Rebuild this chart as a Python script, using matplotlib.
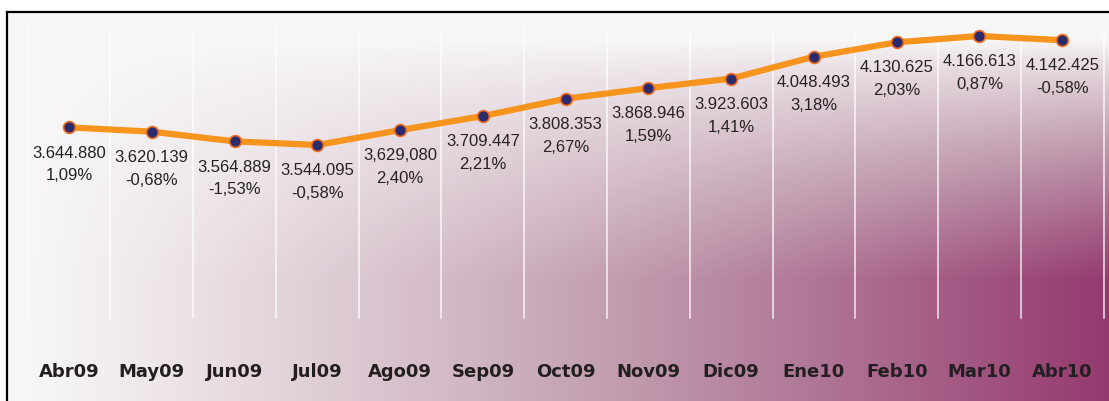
import numpy as np
import matplotlib.pyplot as plt

# Data
months = ['Abr09', 'May09', 'Jun09', 'Jul09', 'Ago09', 'Sep09', 'Oct09',
          'Nov09', 'Dic09', 'Ene10', 'Feb10', 'Mar10', 'Abr10']
values = [3644880, 3620139, 3564889, 3544095, 3629080, 3709447, 3808353,
          3868946, 3923603, 4048493, 4130625, 4166613, 4142425]
value_labels = ['3.644.880', '3.620.139', '3.564.889', '3.544.095', '3,629,080',
                '3.709.447', '3.808.353', '3.868.946', '3.923.603', '4.048.493',
                '4.130.625', '4.166.613', '4.142.425']
pct_labels = ['1,09%', '-0,68%', '-1,53%', '-0,58%', '2,40%', '2,21%', '2,67%',
              '1,59%', '1,41%', '3,18%', '2,03%', '0,87%', '-0,58%']

W, H = 1109, 401
fig = plt.figure(figsize=(W / 100, H / 100), dpi=100)
ax = fig.add_axes([7 / W, 0, (W - 7) / W, (H - 12) / H])

# x scale: category spacing ~82.8px, first point at px 69
step = 82.77
x0 = (7 - 69) / step
x1 = (W - 69) / step
ax.set_xlim(x0, x1)

# y scale from point positions
k = 1.751e-4  # px per unit
ytop = 4166613 + (36 - 12) / k
ybot = 4166613 - (H - 36) / k
ax.set_ylim(ybot, ytop)

# Gradient background: light top-left to plum bottom-right
ny, nx = 300, 500
xf = np.linspace(0, 1, nx)[None, :]
yf = np.linspace(0, 1, ny)[:, None]  # 0 at top
v = np.clip((yf - 0.07) / 0.62, 0, 1) ** 0.8
t = (xf ** 1.15) * v
stops = [0, 0.5, 1]
cols = np.array([[0.975, 0.972, 0.975],
                 [0.76, 0.62, 0.69],
                 [0.584, 0.227, 0.435]])
img = np.stack([np.interp(t, stops, cols[:, c]) for c in range(3)], axis=-1)
ax.imshow(img, extent=[x0, x1, ybot, ytop], aspect='auto', origin='upper', zorder=0)

# Vertical gridlines
gmin = (H - 318) / (H - 12)
gmax = (H - 30) / (H - 12)
for i in range(len(months) + 1):
    ax.axvline(i - 0.5, ymin=gmin, ymax=gmax, color='white', lw=1.1, alpha=0.85, zorder=1)

x = np.arange(len(months))
ax.plot(x, values, color='#f7941d', lw=4.5, zorder=3, solid_capstyle='round')
ax.plot(x, values, 'o', ms=8.5, mfc='#2b2a6b', mec='#f26b21', mew=1.2, zorder=4)

for i, v in enumerate(values):
    ax.annotate(value_labels[i], (i, v), xytext=(0, -18.5), textcoords='offset points',
                ha='center', va='center', fontsize=12, color='#262223',
                family='Liberation Sans', zorder=5)
    ax.annotate(pct_labels[i], (i, v), xytext=(0, -35), textcoords='offset points',
                ha='center', va='center', fontsize=12, color='#262223',
                family='Liberation Sans', zorder=5)

# Category labels
for i, m in enumerate(months):
    ax.text(i, ybot + (H - 372) / k, m, ha='center', va='center', fontsize=13,
            fontweight='bold', color='#231f20', family='DejaVu Sans', zorder=5)

ax.set_xticks([])
ax.set_yticks([])
for s in ['right', 'bottom']:
    ax.spines[s].set_visible(False)
ax.spines['left'].set_linewidth(1.6)
ax.spines['top'].set_linewidth(1.6)

fig.savefig('out.png', dpi=100)
